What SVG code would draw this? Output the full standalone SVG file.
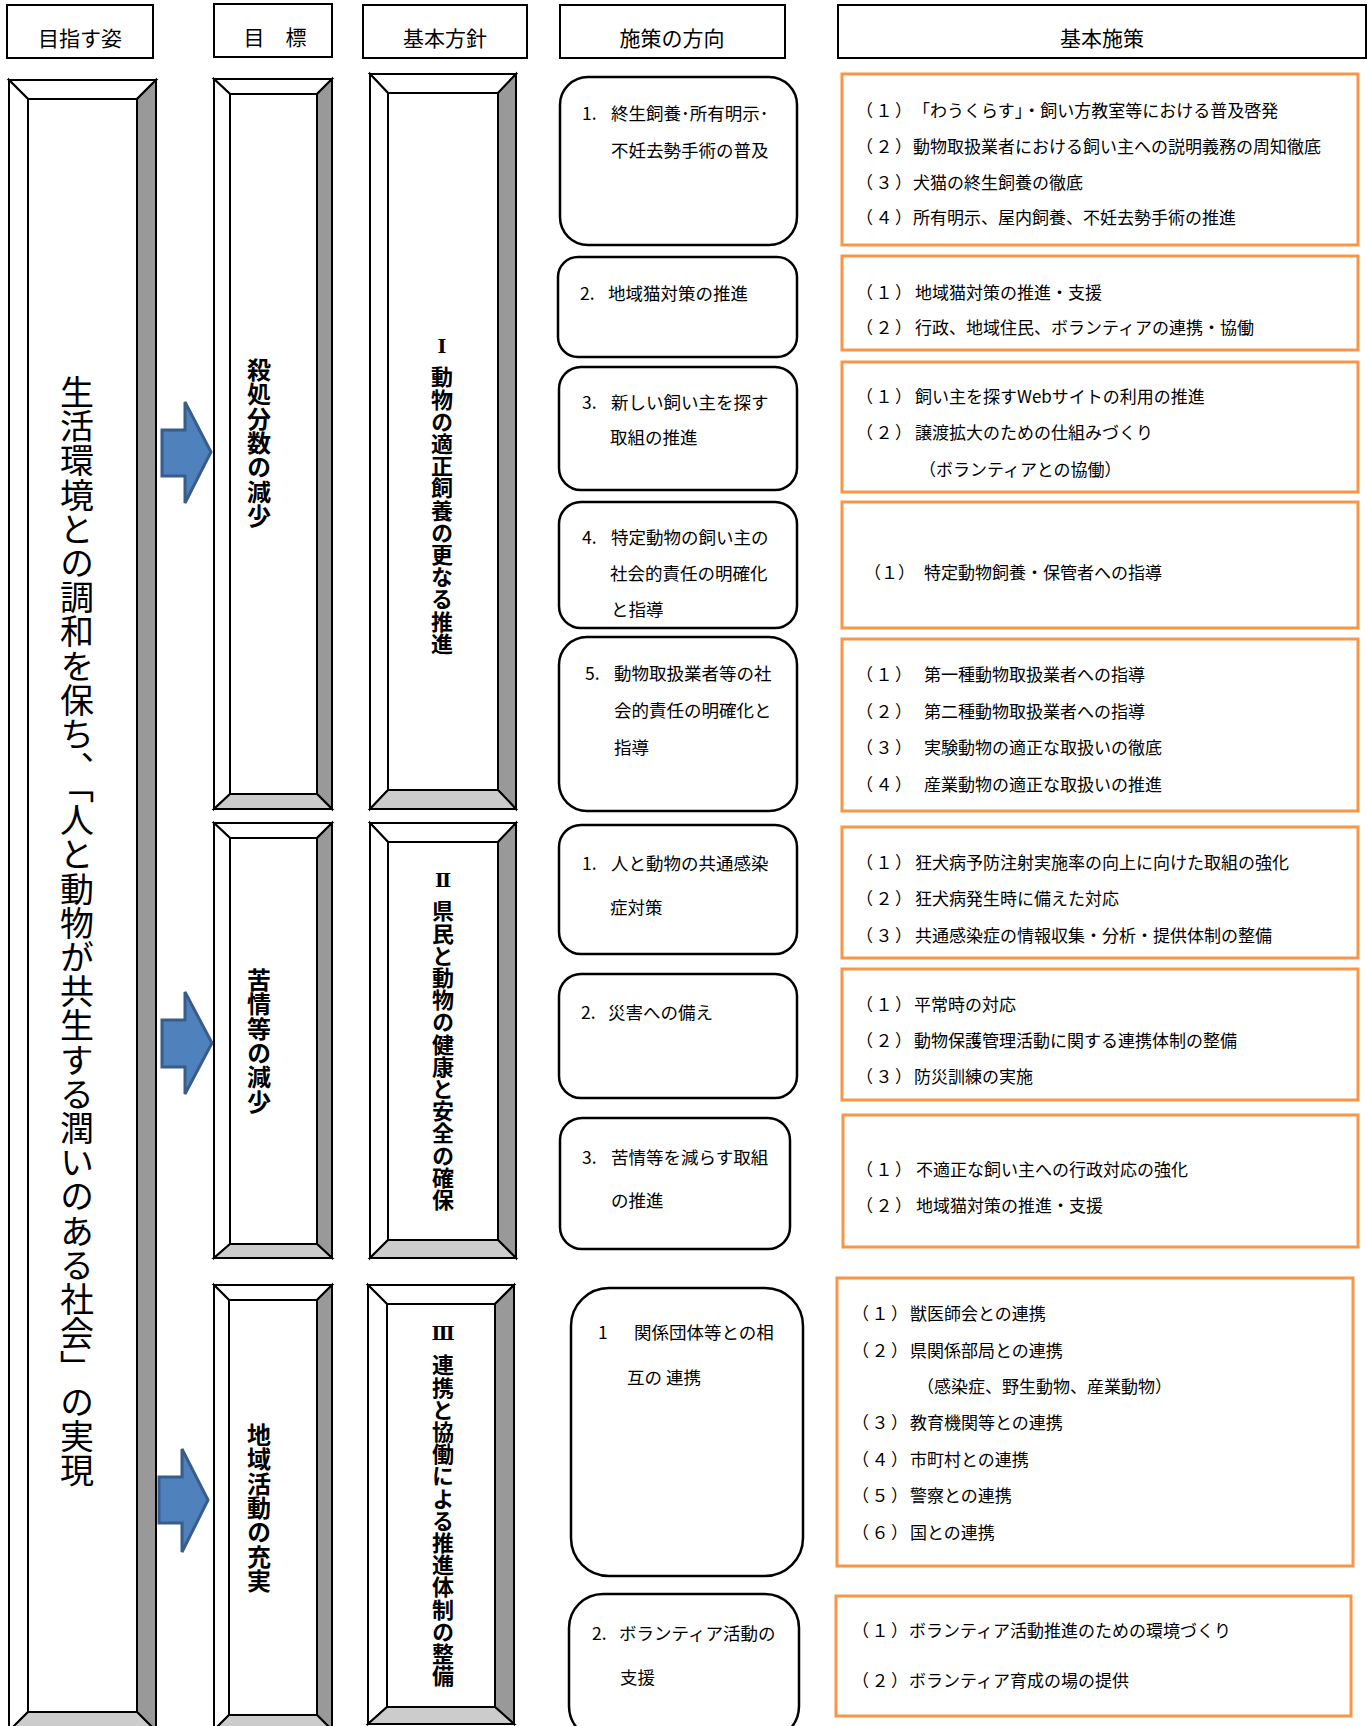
<svg xmlns="http://www.w3.org/2000/svg" width="1370" height="1726" viewBox="0 0 1370 1726">
<style>
text { font-family: "Noto Sans CJK JP", "Noto Sans", sans-serif; fill: #000; }
.hdr { fill: #fff; stroke: #000; stroke-width: 2; }
.ht { font-size: 21px; text-anchor: middle; }
.bv polygon, .bv rect { stroke: #000; stroke-width: 2; stroke-linejoin: miter; }
.lt { fill: #fff; }
.dk { fill: #999; }
.md { fill: #ccc; }
.dir { fill: #fff; stroke: #000; stroke-width: 2.5; }
.pol { fill: #fff; stroke: #F79646; stroke-width: 3; }
.t4 { font-size: 17.5px; }
.t5 { font-size: 17px; }
.vt { writing-mode: vertical-rl; }
.vbig { font-size: 34px; letter-spacing: 0.2px; }
.vgoal { font-size: 24px; font-weight: bold; letter-spacing: 0.3px; }
.vpol { font-size: 22px; font-weight: bold; letter-spacing: 0.2px; }
text.rn { font-family: "DejaVu Serif", "Liberation Serif", "Noto Sans CJK JP", serif; font-size: 19px; font-weight: bold; text-anchor: middle; }
.arr { fill: #4F81BD; stroke: #385D8A; stroke-width: 3; stroke-linejoin: miter; }
.pn { letter-spacing: 2.5px; }
</style>

<!-- headers -->
<g id="hdr-mezasu"><rect class="hdr" x="7" y="5" width="146" height="53"/><text class="ht" x="80" y="46">目指す姿</text></g>
<g id="hdr-mokuhyo"><rect class="hdr" x="214" y="4" width="118" height="53"/><text class="ht" x="275" y="45">目　標</text></g>
<g id="hdr-houshin"><rect class="hdr" x="363" y="5" width="164" height="53"/><text class="ht" x="445" y="46">基本方針</text></g>
<g id="hdr-houkou"><rect class="hdr" x="560" y="5" width="225" height="53"/><text class="ht" x="672" y="46">施策の方向</text></g>
<g id="hdr-shisaku"><rect class="hdr" x="838" y="5" width="528" height="53"/><text class="ht" x="1102" y="46">基本施策</text></g>

<!-- 目指す姿 frame -->
<g id="vision" class="bv">
<polygon class="lt" points="9,80 156,80 137,99 28,99"/>
<polygon class="lt" points="9,80 28,99 28,1712 9,1731"/>
<polygon class="dk" points="156,80 156,1731 137,1712 137,99"/>
<polygon class="md" points="9,1731 28,1712 137,1712 156,1731"/>
<rect x="28" y="99" width="109" height="1613" fill="#fff"/>
<text class="vt vbig" x="77" y="375">生活環境との調和を保ち、</text>
<text class="vt vbig" x="77" y="769">「人と動物が共生する潤いのある社会」の実現</text>
</g>

<!-- goal frames -->
<g id="goal1" class="bv">
<polygon class="lt" points="214,79 332,79 317,94 230,94"/>
<polygon class="lt" points="214,79 230,94 230,794 214,809"/>
<polygon class="dk" points="332,79 332,809 317,794 317,94"/>
<polygon class="md" points="214,809 230,794 317,794 332,809"/>
<rect x="230" y="94" width="87" height="700" fill="#fff"/>
<text class="vt vgoal" x="259" y="358">殺処分数の減少</text>
</g>
<g id="goal2" class="bv">
<polygon class="lt" points="214,823 332,823 317,838 230,838"/>
<polygon class="lt" points="214,823 230,838 230,1244 214,1258"/>
<polygon class="dk" points="332,823 332,1258 317,1244 317,838"/>
<polygon class="md" points="214,1258 230,1244 317,1244 332,1258"/>
<rect x="230" y="838" width="87" height="406" fill="#fff"/>
<text class="vt vgoal" x="259" y="968">苦情等の減少</text>
</g>
<g id="goal3" class="bv">
<polygon class="lt" points="214,1285 332,1285 317,1300 229,1300"/>
<polygon class="lt" points="214,1285 229,1300 229,1715 214,1730"/>
<polygon class="dk" points="332,1285 332,1730 317,1715 317,1300"/>
<polygon class="md" points="214,1730 229,1715 317,1715 332,1730"/>
<rect x="229" y="1300" width="88" height="415" fill="#fff"/>
<text class="vt vgoal" x="259" y="1423">地域活動の充実</text>
</g>

<!-- policy frames -->
<g id="policy1" class="bv">
<polygon class="lt" points="370,74 516,74 498,93 388,93"/>
<polygon class="lt" points="370,74 388,93 388,790 370,809"/>
<polygon class="dk" points="516,74 516,809 498,790 498,93"/>
<polygon class="md" points="370,809 388,790 498,790 516,809"/>
<rect x="388" y="93" width="110" height="697" fill="#fff"/>
<text class="rn" x="442" y="353">Ⅰ</text>
<text class="vt vpol" x="442" y="366">動物の適正飼養の更なる推進</text>
</g>
<g id="policy2" class="bv">
<polygon class="lt" points="370,823 516,823 498,842 388,842"/>
<polygon class="lt" points="370,823 388,842 388,1240 370,1258"/>
<polygon class="dk" points="516,823 516,1258 498,1240 498,842"/>
<polygon class="md" points="370,1258 388,1240 498,1240 516,1258"/>
<rect x="388" y="842" width="110" height="398" fill="#fff"/>
<text class="rn" x="443" y="887">Ⅱ</text>
<text class="vt vpol" x="443" y="900">県民と動物の健康と安全の確保</text>
</g>
<g id="policy3" class="bv">
<polygon class="lt" points="368,1285 514,1285 495,1304 387,1304"/>
<polygon class="lt" points="368,1285 387,1304 387,1707 368,1724"/>
<polygon class="dk" points="514,1285 514,1724 495,1707 495,1304"/>
<polygon class="md" points="368,1724 387,1707 495,1707 514,1724"/>
<rect x="387" y="1304" width="108" height="403" fill="#fff"/>
<text class="rn" x="443" y="1340">Ⅲ</text>
<text class="vt vpol" x="443" y="1354">連携と協働による推進体制の整備</text>
</g>

<!-- connectors: block arrows -->
<g id="connectors">
<polygon class="arr" points="162,430 185,430 185,402 211,452 185,503 185,476 162,476"/>
<polygon class="arr" points="162,1020 185,1020 185,992 212,1043 185,1094 185,1067 162,1067"/>
<polygon class="arr" points="159,1477 182,1477 182,1449 208,1500 182,1552 182,1523 159,1523"/>
</g>

<!-- 施策の方向 -->
<g id="dir1"><rect class="dir" x="560" y="77" width="237" height="168" rx="28"/>
<text class="t4" y="120"><tspan x="582">1.</tspan><tspan x="611">終生飼養･所有明示･</tspan></text>
<text class="t4" x="611" y="157">不妊去勢手術の普及</text></g>
<g id="dir2"><rect class="dir" x="558" y="257" width="239" height="100" rx="20"/>
<text class="t4" y="300"><tspan x="580">2.</tspan><tspan x="608">地域猫対策の推進</tspan></text></g>
<g id="dir3"><rect class="dir" x="559" y="367" width="238" height="123" rx="22"/>
<text class="t4" y="409"><tspan x="582">3.</tspan><tspan x="611">新しい飼い主を探す</tspan></text>
<text class="t4" x="610" y="444">取組の推進</text></g>
<g id="dir4"><rect class="dir" x="559" y="502" width="238" height="126" rx="22"/>
<text class="t4" y="544"><tspan x="582">4.</tspan><tspan x="611">特定動物の飼い主の</tspan></text>
<text class="t4" x="610" y="580">社会的責任の明確化</text>
<text class="t4" x="611" y="616">と指導</text></g>
<g id="dir5"><rect class="dir" x="559" y="637" width="238" height="174" rx="28"/>
<text class="t4" y="680"><tspan x="585">5.</tspan><tspan x="614">動物取扱業者等の社</tspan></text>
<text class="t4" x="614" y="717">会的責任の明確化と</text>
<text class="t4" x="614" y="754">指導</text></g>
<g id="dir6"><rect class="dir" x="559" y="825" width="238" height="129" rx="22"/>
<text class="t4" y="870"><tspan x="582">1.</tspan><tspan x="611">人と動物の共通感染</tspan></text>
<text class="t4" x="610" y="914">症対策</text></g>
<g id="dir7"><rect class="dir" x="559" y="974" width="238" height="124" rx="22"/>
<text class="t4" y="1019"><tspan x="581">2.</tspan><tspan x="608">災害への備え</tspan></text></g>
<g id="dir8"><rect class="dir" x="560" y="1118" width="230" height="131" rx="22"/>
<text class="t4" y="1164"><tspan x="582">3.</tspan><tspan x="611">苦情等を減らす取組</tspan></text>
<text class="t4" x="611" y="1207">の推進</text></g>
<g id="dir9"><rect class="dir" x="571" y="1288" width="232" height="288" rx="38"/>
<text class="t4" y="1339"><tspan x="598">1</tspan><tspan x="634">関係団体等との相</tspan></text>
<text class="t4" x="627" y="1384">互の 連携</text></g>
<g id="dir10"><rect class="dir" x="569" y="1594" width="230" height="146" rx="34"/>
<text class="t4" y="1640"><tspan x="592">2.</tspan><tspan x="619">ボランティア活動の</tspan></text>
<text class="t4" x="620" y="1684">支援</text></g>

<!-- 基本施策 -->
<g id="pol1"><rect class="pol" x="842" y="74" width="516" height="171"/>
<text class="t5" y="117"><tspan class="pn" x="856">（１）</tspan><tspan x="913">「わうくらす」・飼い方教室等における普及啓発</tspan></text>
<text class="t5" y="153"><tspan class="pn" x="856">（２）</tspan><tspan x="913">動物取扱業者における飼い主への説明義務の周知徹底</tspan></text>
<text class="t5" y="189"><tspan class="pn" x="856">（３）</tspan><tspan x="913">犬猫の終生飼養の徹底</tspan></text>
<text class="t5" y="224"><tspan class="pn" x="856">（４）</tspan><tspan x="913">所有明示、屋内飼養、不妊去勢手術の推進</tspan></text></g>
<g id="pol2"><rect class="pol" x="842" y="256" width="516" height="94"/>
<text class="t5" y="299"><tspan class="pn" x="856">（１）</tspan><tspan x="915">地域猫対策の推進・支援</tspan></text>
<text class="t5" y="334"><tspan class="pn" x="856">（２）</tspan><tspan x="915">行政、地域住民、ボランティアの連携・協働</tspan></text></g>
<g id="pol3"><rect class="pol" x="842" y="362" width="516" height="130"/>
<text class="t5" y="403"><tspan class="pn" x="856">（１）</tspan><tspan x="915">飼い主を探すWebサイトの利用の推進</tspan></text>
<text class="t5" y="439"><tspan class="pn" x="856">（２）</tspan><tspan x="915">譲渡拡大のための仕組みづくり</tspan></text>
<text class="t5" x="919" y="476">（ボランティアとの協働）</text></g>
<g id="pol4"><rect class="pol" x="842" y="502" width="516" height="126"/>
<text class="t5" y="579"><tspan x="864">（１）</tspan><tspan x="924">特定動物飼養・保管者への指導</tspan></text></g>
<g id="pol5"><rect class="pol" x="842" y="639" width="516" height="172"/>
<text class="t5" y="681"><tspan class="pn" x="856">（１）</tspan><tspan x="924">第一種動物取扱業者への指導</tspan></text>
<text class="t5" y="718"><tspan class="pn" x="856">（２）</tspan><tspan x="924">第二種動物取扱業者への指導</tspan></text>
<text class="t5" y="754"><tspan class="pn" x="856">（３）</tspan><tspan x="924">実験動物の適正な取扱いの徹底</tspan></text>
<text class="t5" y="791"><tspan class="pn" x="856">（４）</tspan><tspan x="924">産業動物の適正な取扱いの推進</tspan></text></g>
<g id="pol6"><rect class="pol" x="842" y="827" width="516" height="131"/>
<text class="t5" y="869"><tspan class="pn" x="856">（１）</tspan><tspan x="915">狂犬病予防注射実施率の向上に向けた取組の強化</tspan></text>
<text class="t5" y="905"><tspan class="pn" x="856">（２）</tspan><tspan x="915">狂犬病発生時に備えた対応</tspan></text>
<text class="t5" y="942"><tspan class="pn" x="856">（３）</tspan><tspan x="915">共通感染症の情報収集・分析・提供体制の整備</tspan></text></g>
<g id="pol7"><rect class="pol" x="842" y="969" width="516" height="131"/>
<text class="t5" y="1011"><tspan class="pn" x="856">（１）</tspan><tspan x="914">平常時の対応</tspan></text>
<text class="t5" y="1047"><tspan class="pn" x="856">（２）</tspan><tspan x="914">動物保護管理活動に関する連携体制の整備</tspan></text>
<text class="t5" y="1083"><tspan class="pn" x="856">（３）</tspan><tspan x="914">防災訓練の実施</tspan></text></g>
<g id="pol8"><rect class="pol" x="843" y="1115" width="515" height="132"/>
<text class="t5" y="1176"><tspan class="pn" x="856">（１）</tspan><tspan x="916">不適正な飼い主への行政対応の強化</tspan></text>
<text class="t5" y="1212"><tspan class="pn" x="856">（２）</tspan><tspan x="916">地域猫対策の推進・支援</tspan></text></g>
<g id="pol9"><rect class="pol" x="837" y="1278" width="516" height="288"/>
<text class="t5" y="1320"><tspan class="pn" x="852">（１）</tspan><tspan x="910">獣医師会との連携</tspan></text>
<text class="t5" y="1357"><tspan class="pn" x="852">（２）</tspan><tspan x="910">県関係部局との連携</tspan></text>
<text class="t5" x="917" y="1393">（感染症、野生動物、産業動物）</text>
<text class="t5" y="1429"><tspan class="pn" x="852">（３）</tspan><tspan x="910">教育機関等との連携</tspan></text>
<text class="t5" y="1466"><tspan class="pn" x="852">（４）</tspan><tspan x="910">市町村との連携</tspan></text>
<text class="t5" y="1502"><tspan class="pn" x="852">（５）</tspan><tspan x="910">警察との連携</tspan></text>
<text class="t5" y="1539"><tspan class="pn" x="852">（６）</tspan><tspan x="910">国との連携</tspan></text></g>
<g id="pol10"><rect class="pol" x="836" y="1596" width="515" height="120"/>
<text class="t5" y="1637"><tspan class="pn" x="852">（１）</tspan><tspan x="909">ボランティア活動推進のための環境づくり</tspan></text>
<text class="t5" y="1687"><tspan class="pn" x="852">（２）</tspan><tspan x="909">ボランティア育成の場の提供</tspan></text></g>
</svg>
